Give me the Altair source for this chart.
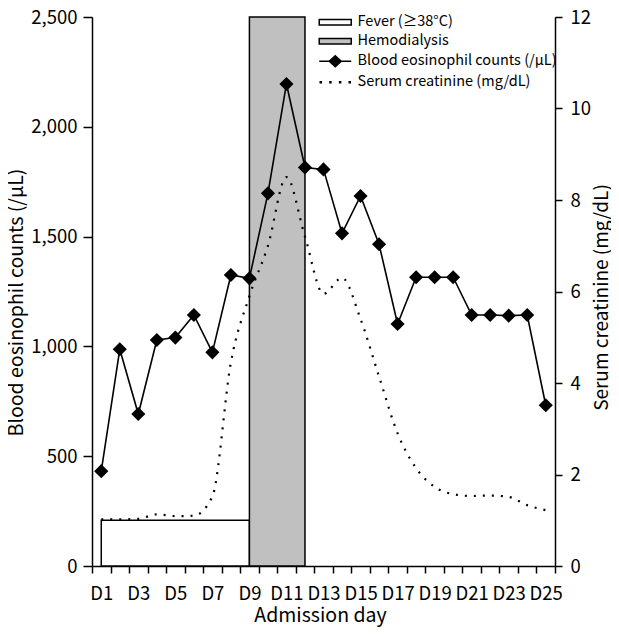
import json
import altair as alt
import pandas as pd

FONT = "Noto Sans CJK KR"

days = ["D1", "D2", "D3", "D4", "D5", "D6", "D7", "D8", "D9", "D10", "D11", "D12", "D13",
        "D14", "D15", "D16", "D17", "D18", "D19", "D20", "D21", "D22", "D23", "D24", "D25"]
tick_labels = ["D1", "D3", "D5", "D7", "D9", "D11", "D13", "D15", "D17", "D19", "D21", "D23", "D25"]

eosinophil = [432, 987, 692, 1029, 1040, 1143, 973, 1325, 1310, 1697, 2195, 1815, 1806,
              1515, 1685, 1465, 1102, 1315, 1315, 1315, 1143, 1143, 1140, 1143, 732]
creatinine = [1.02, 1.02, 1.03, 1.13, 1.09, 1.1, 1.52, 4.45, 5.9, 7.0, 8.5, 7.2, 5.95,
              6.3, 5.4, 4.14, 2.9, 2.14, 1.73, 1.57, 1.53, 1.54, 1.51, 1.33, 1.22]

periods = ["Fever (≥38°C)", "Hemodialysis"]
period_start = [1, 9]
period_end = [9, 12]
period_top = [1.0, 12.0]

legend_items = ["Fever (≥38°C)", "Hemodialysis", "Blood eosinophil counts (/μL)", "Serum creatinine (mg/dL)"]
legend_fill = ["white", "#c0c0c0", "black", "black"]
legend_stroke = ["black", "black", "black", "transparent"]
rect_path = "M-3.2,-0.55H3.2V0.55H-3.2Z"
line_diamond_path = "M-3.2,0H3.2M0,-1.1L1.2,0L0,1.1L-1.2,0Z"
dots_path = " ".join(f"M{cx - 0.25:.2f},-0.25h0.5v0.5h-0.5Z" for cx in [-2.9, -0.97, 0.97, 2.9])
legend_shapes = [rect_path, rect_path, line_diamond_path, dots_path]

series = pd.DataFrame({"day": days, "eos": eosinophil, "cr": creatinine})
period_df = pd.DataFrame({"period": periods, "start": period_start, "end": period_end,
                          "top": period_top, "bottom": [0, 0]})
legend_df = pd.DataFrame({"item": legend_items})

label_expr = "indexof(" + json.dumps(tick_labels) + ", datum.value) >= 0 ? datum.value : ''"

band = alt.Scale(type="band", domain=days, paddingInner=0, paddingOuter=0)

x_axis = alt.Axis(title="Admission day", tickBand="extent", labelExpr=label_expr,
                  labelAngle=0, labelOverlap=False, tickSize=7, labelPadding=11,
                  titlePadding=4, labelFontSize=18.5, titleFontSize=19.5, titleX=228)

rect_base = alt.Chart(period_df).encode(
    x=alt.X("start:Q", scale=alt.Scale(domain=[0.5, 25.5], nice=False, zero=False), axis=None),
    x2="end:Q",
    y=alt.Y("bottom:Q", scale=alt.Scale(domain=[0, 12], nice=False), axis=None),
    y2="top:Q",
)
fever_rect = rect_base.transform_filter(alt.datum.period == periods[0]).mark_rect(
    fill="white", stroke="black", strokeWidth=1.5)
hemo_rect = rect_base.transform_filter(alt.datum.period == periods[1]).mark_rect(
    fill="#c0c0c0", stroke="black", strokeWidth=1.5)
rects = alt.layer(fever_rect, hemo_rect)

cr_line = alt.Chart(series).mark_line(
    color="black", strokeWidth=2.2, strokeDash=[2, 7], interpolate="monotone"
).encode(
    x=alt.X("day:O", sort=days, scale=band, axis=None),
    y=alt.Y("cr:Q", scale=alt.Scale(domain=[0, 12], nice=False),
            axis=alt.Axis(orient="right", title="Serum creatinine (mg/dL)",
                          values=[0, 2, 4, 6, 8, 10, 12], tickSize=7, labelPadding=8,
                          titleAngle=270, titleBaseline="top", titlePadding=2, titleY=280,
                          labelFontSize=18.5, titleFontSize=19)),
)

eos_line = alt.Chart(series).mark_line(
    color="black", strokeWidth=1.6,
    point=alt.OverlayMarkDef(shape="diamond", size=200, filled=True, color="black", opacity=1),
).encode(
    x=alt.X("day:O", sort=days, scale=band, axis=x_axis),
    y=alt.Y("eos:Q", scale=alt.Scale(domain=[0, 2500], nice=False),
            axis=alt.Axis(orient="left", title="Blood eosinophil counts (/μL)",
                          values=[0, 500, 1000, 1500, 2000, 2500], format=",.0f",
                          tickSize=9, labelPadding=6, titlePadding=4, titleY=285,
                          labelFontSize=18.5, titleFontSize=19.5)),
)

legend_def = alt.Legend(orient="none", legendX=236, legendY=-2, title=None,
                        symbolSize=100, symbolStrokeWidth=1.5, symbolOpacity=1,
                        labelFontSize=14.5, labelFont=FONT, labelColor="black",
                        labelOffset=15, rowPadding=4, padding=0, labelLimit=400)

legend_layer = alt.Chart(legend_df).mark_point(filled=True, opacity=0).encode(
    x=alt.value(0),
    y=alt.value(0),
    fill=alt.Fill("item:N", scale=alt.Scale(domain=legend_items, range=legend_fill), legend=legend_def),
    stroke=alt.Stroke("item:N", scale=alt.Scale(domain=legend_items, range=legend_stroke), legend=legend_def),
    shape=alt.Shape("item:N", scale=alt.Scale(domain=legend_items, range=legend_shapes), legend=legend_def),
)

chart = alt.layer(rects, cr_line, eos_line, legend_layer).resolve_scale(
    x="independent", y="independent"
).properties(
    width=463, height=549,
    background="white",
    autosize=alt.AutoSizeParams(type="none"),
    padding={"left": 84, "top": 9, "right": 56, "bottom": 61},
).configure_view(stroke=None).configure_axis(
    labelFont=FONT, titleFont=FONT, labelColor="black", titleColor="black",
    titleFontWeight="normal", domainColor="black", tickColor="black",
    domainWidth=1.5, tickWidth=1.5, grid=False,
)

chart.save("out.html", embed_options={"renderer": "svg", "actions": False})
